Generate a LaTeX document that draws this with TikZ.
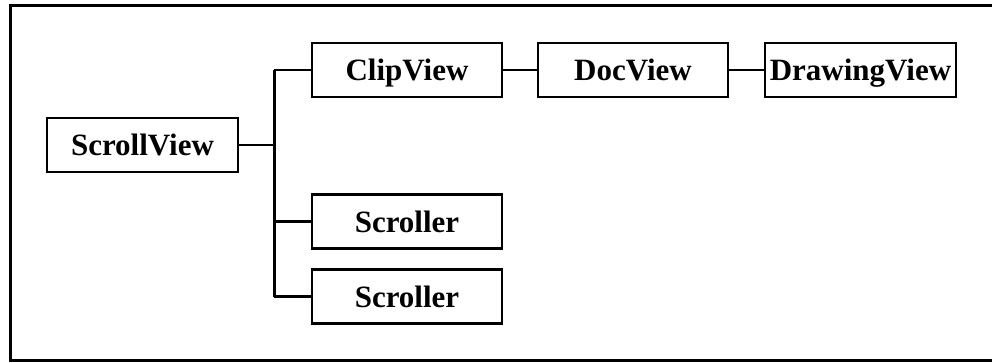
\documentclass[tikz,border=0pt]{standalone}
\usepackage{fontspec}
\setmainfont{Liberation Serif}
\begin{document}
\begin{tikzpicture}[x=1pt,y=-1pt,
  cls/.style={draw, line width=2.8pt, inner sep=0pt, minimum height=54pt,
    text height=23pt, text depth=2pt,
    font=\fontsize{31}{36}\selectfont\bfseries},
  link/.style={line width=2.5pt}]
\useasboundingbox (0,0) rectangle (992,362);
\draw[line width=3pt] (996,5) -- (10,5) -- (10,360) -- (996,360);
\node[cls, minimum width=191pt] (sv) at (142.5,145) {ScrollView};
\node[cls, minimum width=190pt] (cv) at (407,70) {ClipView};
\node[cls, minimum width=190pt] (dv) at (633,70) {DocView};
\node[cls, minimum width=191pt] (dw) at (860.5,70) {DrawingView};
\node[cls, minimum width=190pt] (s1) at (407,221.5) {Scroller};
\node[cls, minimum width=190pt] (s2) at (407,296.7) {Scroller};
\coordinate (jt) at (274,70);
\coordinate (jb) at (274,296.7);
\draw[line width=3pt] (jt) -- (jb);
\draw[link] (sv.east) -- (sv.east -| jt);
\draw[link] (cv.west) -- (jt);
\draw[line width=3pt] (s1.west) -- (s1.west -| jt);
\draw[link] (s2.west) -- (jb);
\draw[link] (cv.east) -- (dv.west);
\draw[link] (dv.east) -- (dw.west);
\end{tikzpicture}
\end{document}
